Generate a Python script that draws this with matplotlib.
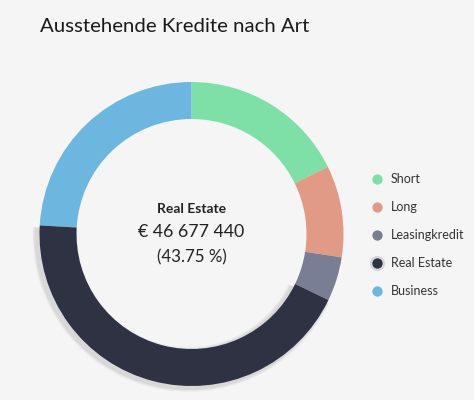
import matplotlib.pyplot as plt
from matplotlib.patches import Wedge

# loan amounts in EUR, read from the donut
labels = ['Short', 'Long', 'Leasingkredit', 'Real Estate', 'Business']
amounts = [18900000, 10400000, 5000000, 46677440, 25714000]
colors = ['#7fe0a7', '#e09a86', '#7a7e94', '#2e3242', '#6cb6e0']
highlight = 'Real Estate'

bg = '#f5f5f5'
fig = plt.figure(figsize=(4.74, 4.0), dpi=100, facecolor=bg)
ax = fig.add_axes([0, 0, 1, 1])
ax.set_facecolor(bg)

cx, cy, r, w = 191.5, 166, 152, 37
wedges, _ = ax.pie(amounts, colors=colors, startangle=90, counterclock=False,
                   center=(cx, cy), radius=r, frame=True,
                   wedgeprops=dict(width=w, linewidth=0))
ax.set_xlim(0, 474)
ax.set_ylim(0, 400)
ax.set_aspect('equal')
ax.axis('off')

hi = labels.index(highlight)
hw = wedges[hi]
# soft shadow behind the highlighted slice
for k, a in enumerate([0.08, 0.10, 0.15]):
    grow = 4 - k
    sh = Wedge((cx - 3, cy - 2), r + grow, hw.theta1, hw.theta2, width=w + 2 * grow,
               facecolor='#9a9a9a', alpha=a, linewidth=0, zorder=0)
    ax.add_patch(sh)
hw.set_zorder(2)

total = sum(amounts)
val = amounts[hi]
ax.text(cx, 400 - 209, highlight, ha='center', va='center', fontsize=10,
        fontweight='bold', color='#222222', family='Lato')
ax.text(cx, 400 - 232, '€ ' + f'{val:,}'.replace(',', ' '), ha='center', va='center',
        fontsize=12.8, color='#222222', family='Lato')
ax.text(cx, 400 - 257, f'({val / total * 100:.2f} %)', ha='center', va='center',
        fontsize=12.2, color='#222222', family='Lato')

fig.text(40 / 474, 1 - 26 / 400, 'Ausstehende Kredite nach Art', ha='left', va='center',
         fontsize=14.7, color='#1a1a1a', family='Lato')

# legend
for i, (lab, col) in enumerate(zip(labels, colors)):
    ly = 400 - (179 + 28 * i)
    if lab == highlight:
        ax.scatter(377, ly, s=120, color='#d6d7dc', zorder=3, linewidths=0)
    ax.scatter(377, ly, s=55, color=col, zorder=4, linewidths=0)
    ax.text(391, ly, lab, ha='left', va='center', fontsize=9,
            color='#333333', family='Lato')

fig.savefig('out.png', dpi=100, facecolor=bg)
